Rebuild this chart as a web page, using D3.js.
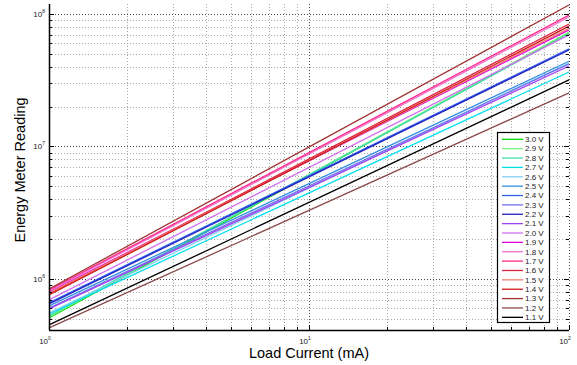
<!DOCTYPE html>
<html><head><meta charset="utf-8">
<script src="https://cdn.jsdelivr.net/npm/d3@7"></script>
<style>body{margin:0;background:#fff}svg{display:block;font-family:"Liberation Sans",Arial,sans-serif}</style>
</head><body><svg id="c" width="577" height="365"></svg>
<script>
// Series: supply voltage labels, colors, and readings at 1 mA and 100 mA
const voltages = ["3.0 V","2.9 V","2.8 V","2.7 V","2.6 V","2.5 V","2.4 V","2.3 V","2.2 V","2.1 V","2.0 V","1.9 V","1.8 V","1.7 V","1.6 V","1.5 V","1.4 V","1.3 V","1.2 V","1.1 V"];
const colors = ["#00dd00","#80ee80","#40e0b0","#00e0f0","#80d0f0","#3090e0","#3060f0","#7070f0","#2020c0","#a040f0","#d070f0","#e000e0","#f070d0","#ff2a8a","#e02040","#f08070","#d01818","#a03030","#8a4a4a","#000000"];
const currents = [1, 100];
const readingAt1mA   = [5.08e5,5.17e5,5.26e5,5.45e5,5.54e5,6.26e5,6.6e5,6.04e5,6.48e5,5.94e5,6.95e5,7.98e5,8.1e5,8.26e5,7.7e5,7.84e5,7.57e5,8.4e5,4.27e5,4.5e5];
const readingAt100mA = [7.2e7,7.3e7,7.1e7,3.65e7,4.27e7,4.4e7,5.45e7,4.2e7,5.35e7,4.05e7,6.95e7,7.6e7,9.5e7,9.8e7,8.4e7,7.8e7,8.1e7,1.17e8,2.54e7,3.18e7];
const xTicks = [1, 10, 100];
const yTicks = [1e6, 1e7, 1e8];

const svg = d3.select("#c");
const L = 49, R = 569, T = 4, B = 330;
const x = d3.scaleLog().domain([1, 100]).range([L, R]);
const y = d3.scaleLog().domain([4.12e5, 1.19e8]).range([B, T]);

const xMinor = [], yMinor = [];
for (let d = 1; d < 100; d *= 10) for (let k = 2; k <= 9; k++) xMinor.push(d * k);
for (let d = 1e5; d <= 1e8; d *= 10) for (let k = 1; k <= 9; k++) { const v = d * k; if (v >= y.domain()[0] && v <= y.domain()[1] && !yTicks.includes(v)) yMinor.push(v); }

const g = svg.append("g");
g.selectAll(".gx").data(xMinor).enter().append("line")
  .attr("x1", d => Math.round(x(d)) + 0.5).attr("x2", d => Math.round(x(d)) + 0.5).attr("y1", T).attr("y2", B)
  .attr("stroke", "#aaa").attr("stroke-width", 1).attr("stroke-dasharray", "1,2");
g.selectAll(".gy").data(yMinor).enter().append("line")
  .attr("x1", L).attr("x2", R).attr("y1", d => Math.round(y(d)) + 0.5).attr("y2", d => Math.round(y(d)) + 0.5)
  .attr("stroke", "#aaa").attr("stroke-width", 1).attr("stroke-dasharray", "1,2");
g.selectAll(".gX").data(xTicks).enter().append("line")
  .attr("x1", d => Math.round(x(d)) + 0.5).attr("x2", d => Math.round(x(d)) + 0.5).attr("y1", T).attr("y2", B)
  .attr("stroke", "#444").attr("stroke-width", 1).attr("stroke-dasharray", "1,2");
g.selectAll(".gY").data(yTicks).enter().append("line")
  .attr("x1", L).attr("x2", R).attr("y1", d => Math.round(y(d)) + 0.5).attr("y2", d => Math.round(y(d)) + 0.5)
  .attr("stroke", "#444").attr("stroke-width", 1).attr("stroke-dasharray", "1,2");

const line = d3.line().x(d => x(d[0])).y(d => y(d[1]));
voltages.forEach((v, i) => {
  const pts = currents.map((c, j) => [c, j === 0 ? readingAt1mA[i] : readingAt100mA[i]]);
  g.append("path").attr("d", line(pts)).attr("fill", "none")
    .attr("stroke", colors[i]).attr("stroke-width", 1.3);
});

svg.append("line").attr("x1", L + 0.5).attr("x2", L + 0.5).attr("y1", T).attr("y2", B).attr("stroke", "#000").attr("stroke-width", 1.5);
svg.append("line").attr("x1", L).attr("x2", R).attr("y1", B + 0.5).attr("y2", B + 0.5).attr("stroke", "#000").attr("stroke-width", 1.5);

const tk = svg.append("g").attr("stroke", "#000").attr("stroke-width", 1);
xMinor.forEach(d => {
  const px = Math.round(x(d)) + 0.5;
  tk.append("line").attr("x1", px).attr("x2", px).attr("y1", B).attr("y2", B - 3);
});
xTicks.forEach(d => {
  const px = Math.round(x(d)) + 0.5;
  tk.append("line").attr("x1", px).attr("x2", px).attr("y1", B).attr("y2", B - 5);
});
yMinor.concat(yTicks).forEach(d => {
  const py = Math.round(y(d)) + 0.5;
  const len = yTicks.includes(d) ? 5 : 3;
  tk.append("line").attr("x1", L).attr("x2", L + len).attr("y1", py).attr("y2", py);
  tk.append("line").attr("x1", R).attr("x2", R - len).attr("y1", py).attr("y2", py);
});

function sup(sel, exp) {
  sel.append("tspan").text("10");
  sel.append("tspan").attr("font-size", 5).attr("dy", -4).text(exp);
}
xTicks.forEach(d => {
  const t = svg.append("text").attr("x", x(d) - 4).attr("y", 344).attr("font-size", 8).attr("fill", "#222").attr("text-anchor", "middle");
  sup(t, Math.round(Math.log10(d)));
});
yTicks.forEach(d => {
  const t = svg.append("text").attr("x", 45).attr("y", y(d) + 3).attr("font-size", 8).attr("fill", "#222").attr("text-anchor", "end");
  sup(t, Math.round(Math.log10(d)));
});

svg.append("text").attr("x", 309).attr("y", 358).attr("text-anchor", "middle").attr("font-size", 14.5).text("Load Current (mA)");
svg.append("text").attr("transform", "translate(25,170) rotate(-90)").attr("text-anchor", "middle").attr("font-size", 14.5).text("Energy Meter Reading");

const lg = svg.append("g");
lg.append("rect").attr("x", 497.5).attr("y", 132.5).attr("width", 52).attr("height", 190).attr("fill", "#fff").attr("stroke", "#000").attr("stroke-width", 1.2);
voltages.forEach((v, i) => {
  const yy = 139.3 + i * 9.37;
  lg.append("line").attr("x1", 502).attr("x2", 523).attr("y1", yy).attr("y2", yy).attr("stroke", colors[i]).attr("stroke-width", 1.3);
  lg.append("text").attr("x", 525).attr("y", yy + 2.8).attr("font-size", 8).attr("fill", "#222").text(v);
});
</script></body></html>
